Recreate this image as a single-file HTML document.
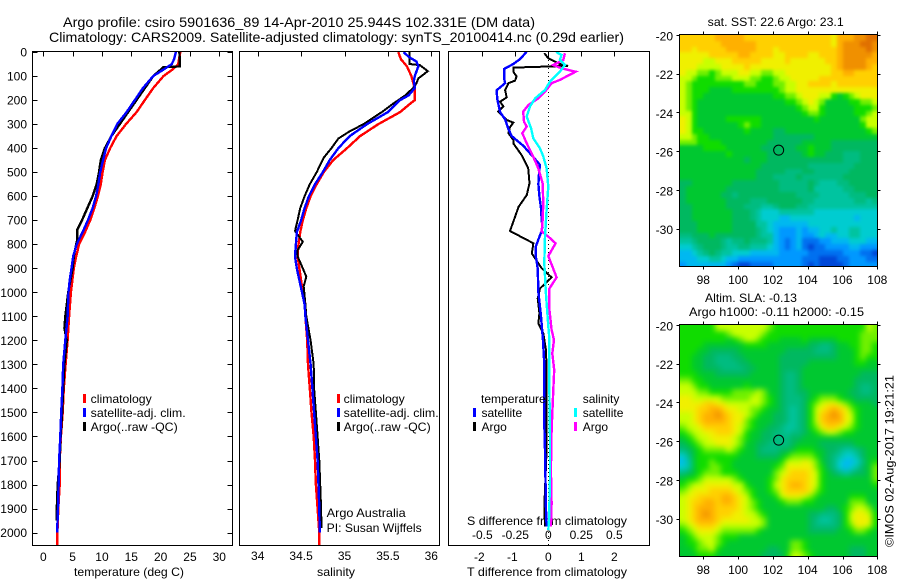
<!DOCTYPE html>
<html>
<head>
<meta charset="utf-8">
<title>Argo profile chart</title>
<style>
html,body{margin:0;padding:0;background:#fff;}
svg{display:block;font-family:"Liberation Sans",sans-serif;font-size:12px;fill:#000;}
text{fill:#000;}
.title{font-size:14px;}
</style>
</head>
<body>
<svg id="chart" width="900" height="580" viewBox="0 0 900 580" xmlns="http://www.w3.org/2000/svg">
  <defs>
    <clipPath id="sst-clip"><rect x="680" y="35" width="198" height="232"/></clipPath>
    <clipPath id="sla-clip"><rect x="680" y="325" width="198" height="232"/></clipPath>
    <filter id="sst-smooth" x="670" y="25" width="218" height="252" filterUnits="userSpaceOnUse" color-interpolation-filters="sRGB">
      <feGaussianBlur stdDeviation="1.6"/>
      <feComponentTransfer><feFuncA type="linear" slope="20" intercept="0"/></feComponentTransfer>
    </filter>
    <filter id="sla-smooth" x="670" y="315" width="218" height="252" filterUnits="userSpaceOnUse" color-interpolation-filters="sRGB">
      <feGaussianBlur stdDeviation="3"/>
      <feComponentTransfer><feFuncA type="linear" slope="20" intercept="0"/></feComponentTransfer>
    </filter>
  </defs>
  <text class="title" x="63" y="27" textLength="472" lengthAdjust="spacingAndGlyphs">Argo profile: csiro 5901636_89 14-Apr-2010 25.944S 102.331E (DM data)</text>
  <text class="title" x="49" y="42" textLength="575" lengthAdjust="spacingAndGlyphs">Climatology: CARS2009. Satellite-adjusted climatology: synTS_20100414.nc (0.29d earlier)</text>

  <text x="74" y="576" textLength="110" lengthAdjust="spacingAndGlyphs">temperature (deg C)</text>
  <text x="317" y="576" textLength="38" lengthAdjust="spacingAndGlyphs">salinity</text>
  <text x="467" y="576" textLength="160" lengthAdjust="spacingAndGlyphs">T difference from climatology</text>
  <text x="467" y="525" textLength="160" lengthAdjust="spacingAndGlyphs">S difference from climatology</text>

  <text x="707.7" y="26" textLength="136" lengthAdjust="spacingAndGlyphs">sat. SST: 22.6 Argo: 23.1</text>
  <text x="705" y="302" textLength="92" lengthAdjust="spacingAndGlyphs">Altim. SLA: -0.13</text>
  <text x="689" y="316" textLength="175" lengthAdjust="spacingAndGlyphs">Argo h1000: -0.11 h2000: -0.15</text>
  <text transform="translate(893.5,547) rotate(-90)" textLength="172" lengthAdjust="spacingAndGlyphs">©IMOS 02-Aug-2017 19:21:21</text>

  <text x="326.7" y="517" textLength="79" lengthAdjust="spacingAndGlyphs">Argo Australia</text>
  <text x="326.7" y="532" textLength="95" lengthAdjust="spacingAndGlyphs">PI: Susan Wijffels</text>

  <g clip-path="url(#sst-clip)"><g id="sst-cells" filter="url(#sst-smooth)"></g></g>
  <g clip-path="url(#sla-clip)"><g id="sla-cells" filter="url(#sla-smooth)"></g></g>
  <g id="panels"></g>
  <g id="axes" shape-rendering="crispEdges"></g>
  <g id="legend"></g>
</svg>
<script>
const depthTicks = [0,100,200,300,400,500,600,700,800,900,1000,1100,1200,1300,1400,1500,1600,1700,1800,1900,2000];
const tempTicks = [0,5,10,15,20,25,30];
const salTicks = [34,34.5,35,35.5,36];
const tDiffTicks = [-2,-1,0,1,2];
const sDiffTicks = [-0.5,-0.25,0,0.25,0.5];
const lonTicks = [98,100,102,104,106,108];
const latTicks = [-20,-22,-24,-26,-28,-30];

const tempClimDepth = [0,50,70,100,150,200,250,300,350,400,450,500,550,600,650,700,750,800,850,900,1000,1100,1200,1300,1400,1500,1600,1700,1800,1900,2000,2055];
const tempClimValue = [23.35,23,22.2,20.5,18.75,17.3,15.9,14.1,12.5,11.4,10.5,10.1,9.8,9.3,8.7,8,7.1,6.1,5.6,5.2,4.7,4.4,4.15,3.8,3.5,3.3,3,2.8,2.8,2.55,2.4,2.4];
const tempSatDepth = [0,30,50,70,100,150,200,250,300,350,400,450,500,550,600,650,700,750,800,850,900,950,1000,1100,1200,1300,1400,1500,1600,1700,1800,1900,2000];
const tempSatValue = [22.6,22.3,21.9,20.7,18.75,17,15.6,14.2,12.6,11.6,10.7,10.2,9.7,9.4,9,8.4,7.6,6.7,5.7,5.1,4.8,4.5,4.3,4.15,3.75,3.4,3.25,3.05,2.9,2.7,2.6,2.5,2.35];
const tempArgoDepth = [0,60,63,100,350,400,450,500,550,600,650,700,740,780,800,850,900,1000,1050,1100,1150,1200,1300,1400,1500,1600,1700,1800,1900,1950];
const tempArgoValue = [23.2,23.3,20.5,18.75,11.6,10.5,9.8,9.5,9.1,8.4,7.5,6.6,5.8,5.8,5.6,5.2,5,4.25,4,3.75,3.6,4,3.6,3.4,3.2,2.95,2.8,2.45,2.3,2.3];

const salClimDepth = [0,30,60,100,150,200,220,250,300,350,400,450,500,550,600,650,700,750,800,850,900,950,1000,1050,1100,1200,1300,1400,1500,1600,1700,1800,1900,2000,2055];
const salClimValue = [35.62,35.65,35.72,35.77,35.81,35.81,35.74,35.64,35.39,35.18,35.03,34.87,34.76,34.68,34.61,34.56,34.52,34.49,34.47,34.46,34.48,34.5,34.52,34.55,34.55,34.57,34.58,34.6,34.62,34.645,34.66,34.67,34.69,34.71,34.71];
const salSatDepth = [0,20,40,60,100,120,150,180,200,250,300,350,400,450,500,550,600,650,700,750,800,850,900,950,1000,1050,1100,1200,1300,1400,1500,1600,1700,1800,1900,2000];
const salSatValue = [35.68,35.74,35.83,35.85,35.81,35.8,35.81,35.74,35.64,35.5,35.26,35.06,34.93,34.83,34.75,34.66,34.59,34.54,34.5,34.45,34.44,34.43,34.45,34.48,34.51,34.54,34.55,34.58,34.61,34.63,34.65,34.67,34.69,34.7,34.71,34.715];
const salArgoDepth = [0,50,55,80,110,130,150,180,220,250,300,330,360,400,440,500,550,600,650,700,745,790,825,850,900,935,975,1050,1100,1200,1300,1400,1500,1600,1700,1800,1900,1980];
const salArgoValue = [35.75,35.75,35.87,35.96,35.85,35.83,35.79,35.7,35.54,35.43,35.22,35.06,34.93,34.85,34.76,34.68,34.6,34.54,34.49,34.46,34.43,34.52,34.46,34.46,34.52,34.56,34.53,34.55,34.56,34.61,34.645,34.65,34.67,34.69,34.71,34.72,34.73,34.735];

const tDiffSatDepth = [0,30,50,70,110,130,160,200,250,280,320,350,390,430,470,500,550,600,650,700,725,745,780,810,850,900,1000,1050,1100,1200,1300,1406,1545,1656,1905,1975];
const tDiffSatValue = [-0.66,-0.86,-1.06,-1.33,-1.34,-1.31,-1.57,-1.54,-1.46,-1.31,-1.21,-1.11,-0.76,-0.5,-0.25,-0.28,-0.3,-0.27,-0.22,-0.2,-0.18,-0.2,-0.3,-0.38,-0.38,-0.32,-0.3,-0.26,-0.22,-0.16,-0.12,-0.12,-0.12,-0.1,-0.07,-0.05];
const tDiffArgoDepth = [5,26,50,58,65,82,102,119,130,158,189,207,227,248,283,294,313,338,366,380,429,484,546,595,644,745,796,838,900,938,984,1025,1087,1129,1171,1240,1323,1500,1656,1893,1975];
const tDiffArgoValue = [-0.12,0,0.35,0.6,-1.06,-1.06,-0.96,-1.01,-1.21,-1.31,-1.26,-1.46,-1.36,-1.52,-1.26,-1.06,-1.16,-1.21,-1.06,-1.06,-0.81,-0.61,-0.57,-0.65,-0.9,-1.16,-0.45,-0.5,-0.2,0.1,-0.25,-0.32,-0.27,-0.3,-0.15,-0.07,-0.05,-0.05,-0.05,-0.12,-0.1];

const sDiffSatDepth = [0,12,33,54,82,123,158,193,227,269,318,359,401,435,484,560,657,768,879,1004,1101,1198,1323,1406,1600,1780,1950,1990];
const sDiffSatValue = [0.058,0.1,0.088,0.126,0.088,0.013,-0.025,-0.1,-0.139,-0.164,-0.13,-0.114,-0.063,-0.038,-0.013,0,-0.013,-0.025,-0.03,-0.018,-0.005,0.008,0.008,0.008,0.013,0.013,0.005,0];
const sDiffArgoDepth = [5,33,54,68,82,116,130,165,193,220,248,290,310,338,380,429,484,546,630,700,747,768,796,849,938,984,1073,1156,1198,1254,1323,1406,1573,1739,1878,1975];
const sDiffArgoValue = [0.126,0.114,0.038,0.1,0.207,0.088,0.025,-0.025,-0.076,-0.15,-0.19,-0.184,-0.164,-0.197,-0.164,-0.12,-0.076,-0.043,-0.038,-0.043,-0.05,0,0.055,0,0.063,0.008,0.008,0.025,0.043,0.03,0.045,0.038,0.025,0.02,0.025,0.02];

const colorScale = ['#0048d8','#0070f0','#0098ff','#00b8f0','#00ccd0','#00c4a0','#00bc80','#00b860','#00c830','#10dc00','#70f000','#c8ff00','#f0f000','#ffd000','#ffb000','#f09000','#e07000'];

const sstGrid = [
[13,13,13,13,13,13,14,14,14,14,14,13,13,13,13,13,13,13,13,13,13,13,13,13,13,13,12,14,14,14,15,15,16,16],
[13,13,13,13,13,13,13,14,14,14,14,14,14,13,13,13,13,13,13,13,13,13,13,13,13,13,12,14,15,15,15,16,16,15],
[13,13,12,13,13,13,13,13,14,14,14,14,14,13,13,13,12,13,13,13,13,13,13,13,13,13,13,14,15,15,15,15,16,15],
[12,12,12,12,12,13,13,13,13,13,14,14,13,13,13,13,12,12,13,13,13,13,12,12,13,13,13,14,15,15,15,15,15,14],
[12,12,12,12,11,11,12,12,12,13,13,13,13,13,12,12,12,12,13,12,12,12,12,12,12,13,13,14,15,15,15,15,14,14],
[12,12,12,11,11,11,11,12,12,12,12,13,12,12,12,12,12,12,12,12,12,12,12,12,12,12,13,14,15,15,15,15,14,13],
[12,11,11,10,10,9,10,11,11,11,12,12,11,11,10,10,11,11,12,12,12,12,12,12,12,12,13,13,14,14,13,13,13,13],
[11,11,10,9,9,9,10,10,10,11,11,11,10,10,9,9,10,11,11,12,12,12,12,12,13,13,13,13,13,13,13,13,13,13],
[11,10,9,9,9,9,9,9,9,9,9,10,10,9,9,9,10,10,11,11,12,12,13,13,13,13,12,13,13,13,13,13,13,13],
[11,10,9,9,9,8,8,8,8,9,9,9,9,9,9,9,9,10,11,11,12,12,12,12,12,12,12,12,12,12,12,12,12,12],
[11,10,9,9,8,8,8,8,8,8,8,8,8,8,8,8,9,9,10,10,11,12,12,12,11,11,9,8,9,10,11,12,12,12],
[11,10,9,8,8,8,8,8,8,8,8,8,8,8,8,8,8,8,9,9,10,11,12,11,10,8,8,8,8,9,9,10,10,11],
[11,10,9,8,8,8,8,8,8,8,8,8,8,8,8,8,8,8,8,8,9,10,11,11,9,8,8,8,8,8,9,9,9,10],
[11,11,9,8,8,8,8,8,8,8,8,8,8,8,8,8,8,8,8,8,8,9,10,10,9,8,8,8,8,8,9,9,10,11],
[12,11,9,8,8,8,8,8,9,9,9,9,9,9,8,8,8,8,8,8,8,8,8,9,8,8,8,8,8,8,8,10,11,11],
[12,11,9,8,8,8,8,8,8,8,9,10,9,9,8,8,8,8,8,8,8,8,8,8,8,8,8,8,8,8,8,9,11,11],
[12,11,9,9,8,8,8,8,8,8,8,9,8,8,8,8,7,7,8,8,8,8,8,8,8,8,8,8,8,8,8,8,9,10],
[11,11,10,9,9,8,8,8,8,8,8,8,8,8,8,8,7,7,7,7,7,7,7,8,8,8,8,8,8,8,8,8,8,8],
[10,10,10,9,9,9,9,8,8,8,8,8,8,8,8,7,7,7,7,7,7,8,8,8,8,8,7,7,7,7,7,7,7,7],
[8,8,8,8,9,9,9,9,8,8,8,8,8,8,7,7,7,7,7,7,8,8,9,8,8,8,7,7,7,7,7,7,7,7],
[8,8,8,8,8,8,8,8,9,8,8,8,8,8,8,7,7,7,7,7,7,8,9,8,8,7,7,7,6,6,6,7,7,7],
[8,8,8,8,8,8,8,8,8,8,8,7,8,8,8,7,7,7,7,7,7,7,7,7,7,7,7,7,6,6,6,7,7,7],
[8,8,8,8,8,8,8,8,8,8,8,8,8,8,7,7,7,7,7,7,7,7,6,6,6,6,6,6,6,6,7,7,7,7],
[8,8,8,8,8,8,8,8,8,8,8,8,8,7,7,7,7,7,6,6,6,7,7,6,6,6,6,6,6,7,7,7,7,7],
[8,8,8,8,8,8,8,8,8,8,8,8,8,7,7,7,6,6,6,6,7,6,6,6,6,6,6,6,7,7,7,7,7,7],
[7,7,8,8,8,8,8,8,8,7,7,7,7,7,7,7,7,6,6,6,6,6,7,6,5,5,5,6,6,7,7,7,7,7],
[7,8,8,8,8,8,8,8,7,7,7,7,7,7,7,7,7,6,6,6,6,6,7,5,5,5,5,5,6,6,7,7,7,7],
[7,8,8,8,8,8,8,7,7,6,7,7,7,7,7,7,7,7,7,7,6,6,6,6,5,5,5,5,5,6,6,6,7,7],
[7,8,8,8,8,8,8,8,7,7,7,7,6,6,6,7,7,7,7,7,7,6,6,5,5,5,5,5,5,5,6,6,5,6],
[7,7,8,8,8,8,8,8,7,7,7,6,6,6,5,5,6,7,7,7,6,6,5,5,5,5,5,5,5,5,5,5,5,5],
[7,7,8,8,8,8,8,8,8,7,7,7,6,5,4,4,4,5,5,5,5,5,5,4,4,4,4,4,4,4,4,4,4,4],
[7,7,8,8,8,8,8,8,8,7,7,7,6,5,4,4,4,3,3,4,4,4,4,4,4,4,4,4,4,4,3,4,4,4],
[7,7,7,8,8,8,8,8,8,7,7,7,7,5,5,4,3,3,3,3,3,3,4,4,4,4,4,4,4,4,4,4,4,4],
[7,7,7,8,8,8,8,8,8,7,7,7,7,6,5,4,3,2,2,2,3,2,3,3,4,4,5,4,4,5,5,4,4,4],
[6,6,7,7,7,8,7,7,7,7,7,7,7,6,5,5,3,2,2,2,3,2,2,3,4,3,3,4,4,5,5,4,4,4],
[5,5,6,7,7,7,7,6,5,6,6,7,6,6,6,5,3,2,1,2,3,1,1,1,2,2,3,3,3,4,4,4,3,3],
[4,4,5,6,7,7,7,6,5,5,6,6,5,5,5,4,3,2,1,2,3,1,0,1,1,2,2,2,2,3,3,2,2,2],
[3,3,4,5,6,7,6,5,5,4,4,4,3,3,3,3,3,2,2,2,2,2,1,1,1,1,1,1,2,2,2,1,1,0],
[3,3,3,4,4,5,5,4,3,3,2,2,2,2,2,2,2,2,2,2,2,1,1,1,0,0,0,1,1,2,2,2,1,1],
[2,3,3,3,3,3,3,3,2,1,0,0,1,1,1,1,2,2,2,2,2,1,0,1,0,0,0,0,1,2,2,2,2,2]
];

const slaGrid = [
[9,9,9,9,9,9,11,11,11,11,11,11,11,11,11,10,9,9,9,9,9,9,9,9,9,9,9,9,9,9,9,9,11,10],
[9,9,9,9,9,9,9,9,10,11,11,11,11,11,10,9,9,9,9,9,9,9,9,9,9,9,9,9,9,9,9,10,10,10],
[9,9,9,9,9,9,9,9,8,9,10,11,11,10,9,9,9,8,8,8,8,9,8,8,8,8,8,9,9,9,9,10,10,10],
[9,9,9,9,8,8,8,8,8,8,8,9,9,9,9,8,8,8,8,8,8,8,7,7,6,6,7,8,8,9,9,10,10,9],
[9,9,9,8,8,7,7,7,7,7,8,8,8,8,8,8,8,8,7,7,7,7,7,6,6,6,7,8,8,8,9,10,10,9],
[9,9,8,8,7,7,6,6,6,7,7,8,8,8,8,8,8,7,7,7,7,7,7,7,7,7,7,8,8,8,9,10,9,9],
[9,9,8,8,7,7,6,6,6,6,7,7,8,8,8,8,8,7,7,7,7,7,8,8,8,8,8,8,8,8,9,9,8,8],
[9,9,8,8,7,7,7,6,6,6,6,7,7,8,8,8,8,7,7,7,7,8,8,8,8,8,8,8,8,8,8,8,8,8],
[9,9,9,8,8,8,7,7,7,7,7,7,8,8,8,8,8,7,6,6,7,8,8,8,8,8,8,8,8,8,8,7,7,7],
[10,10,9,9,8,8,8,8,8,8,8,8,8,8,8,8,8,7,6,6,7,8,8,8,8,8,8,8,8,8,7,7,7,7],
[11,11,10,9,9,8,8,8,8,8,8,9,8,8,8,8,8,7,6,6,7,8,8,8,8,8,8,8,8,8,7,6,6,7],
[11,11,11,10,10,9,9,9,9,10,10,10,10,11,10,8,8,7,6,6,7,7,8,8,8,8,8,8,8,7,7,6,6,7],
[12,12,11,11,11,11,11,10,10,10,10,10,11,11,10,9,8,7,6,6,6,7,8,9,10,10,10,9,8,8,7,7,7,7],
[12,12,12,12,13,13,12,12,11,11,11,11,11,11,10,9,8,7,6,6,6,7,9,10,11,12,12,11,10,9,8,8,8,7],
[12,12,12,13,13,14,14,13,12,12,11,11,10,10,9,8,8,7,6,5,6,7,9,11,12,13,14,13,12,10,9,8,8,8],
[11,11,12,13,14,14,15,14,13,12,12,11,10,9,8,8,7,7,6,5,6,7,9,11,13,14,15,14,12,11,9,8,8,8],
[11,11,12,13,14,14,14,14,13,12,12,10,9,8,8,8,7,7,6,5,6,7,9,11,13,14,14,14,12,11,9,8,8,8],
[10,11,11,12,13,13,13,13,13,12,11,10,9,8,8,7,7,6,5,5,6,7,9,10,12,13,13,12,11,10,9,8,8,8],
[9,10,11,11,12,12,13,13,13,12,11,9,8,8,7,7,6,6,5,6,6,7,8,9,10,11,11,10,9,9,8,8,8,8],
[8,9,10,11,11,12,12,12,12,11,10,9,8,8,7,7,6,6,6,7,7,8,8,8,8,8,8,8,8,8,8,8,8,8],
[7,8,9,10,11,11,12,12,12,11,10,8,8,7,7,6,6,6,6,7,8,8,8,8,7,7,7,7,7,7,8,8,8,8],
[6,7,8,9,10,10,10,10,11,10,9,8,8,7,6,6,6,7,7,8,9,9,9,8,8,7,7,6,5,5,6,7,8,8],
[4,6,8,9,9,9,9,9,9,9,8,8,8,7,7,7,7,8,9,10,10,10,10,9,8,7,6,5,4,4,5,7,8,8],
[3,5,8,9,9,10,9,9,9,8,8,8,8,8,8,8,8,9,11,11,11,12,11,10,8,7,6,4,3,3,4,6,8,9],
[4,5,8,9,9,10,10,9,9,8,8,8,8,8,8,8,9,10,12,12,12,12,12,10,9,7,6,4,3,4,5,7,8,10],
[6,7,8,9,10,10,10,9,9,9,8,8,8,8,8,8,10,11,12,13,13,13,12,11,9,8,7,6,5,6,7,7,8,10],
[8,9,9,10,11,11,11,11,11,10,9,8,8,8,8,9,10,12,13,13,13,13,12,11,9,8,8,8,8,8,8,8,8,10],
[9,10,11,11,12,12,12,12,12,11,11,9,8,8,8,9,11,12,13,14,14,13,12,11,9,8,8,8,8,8,8,8,8,9],
[10,11,12,12,12,13,13,13,13,12,11,10,9,8,8,9,10,12,13,13,13,13,12,10,9,8,8,8,8,8,8,8,8,8],
[11,12,12,13,13,13,13,14,14,13,12,11,9,8,8,8,9,11,12,12,12,11,10,9,8,8,8,8,8,9,9,9,8,8],
[11,12,13,13,14,14,13,14,14,13,12,11,10,9,8,8,8,9,10,10,10,9,9,8,8,8,8,8,8,10,10,10,8,8],
[11,12,13,14,14,14,13,13,13,13,12,11,10,9,8,8,8,8,8,8,8,8,8,8,8,7,7,8,9,10,11,11,10,8],
[11,12,13,14,15,14,13,13,13,12,12,11,11,10,9,8,8,8,8,8,8,8,7,7,6,6,6,7,9,11,12,12,11,9],
[11,12,13,14,14,14,13,12,12,12,12,12,11,11,10,8,8,8,8,8,8,8,7,6,5,5,6,7,9,11,12,12,12,9],
[10,11,12,13,13,13,12,11,11,11,11,11,11,11,10,8,8,8,8,8,8,8,7,6,6,6,6,7,9,10,12,12,11,9],
[9,10,11,12,12,12,11,10,10,10,10,10,10,9,8,8,8,8,8,8,8,8,7,7,7,7,7,8,8,9,10,10,9,8],
[8,9,10,11,11,11,10,9,9,9,8,8,8,8,8,8,8,8,8,8,8,8,8,8,8,8,8,8,8,8,8,8,8,8],
[8,9,9,10,11,11,10,9,8,8,8,8,8,8,8,8,8,8,8,10,10,9,8,8,8,8,8,8,8,8,8,8,8,8],
[8,8,9,10,10,11,9,8,8,8,8,8,8,8,8,7,7,8,8,10,10,9,8,8,8,8,8,8,8,7,7,7,8,8],
[8,8,8,9,9,9,8,8,8,8,8,8,8,8,7,7,7,7,9,11,11,10,9,8,8,8,8,8,8,7,7,7,8,8]
];

const profileLon = 102.331;
const profileLat = -25.944;

const NS = 'http://www.w3.org/2000/svg';
const depthY = d => 52 + d * 0.2403;
const tempX = t => 43.3 + t * 5.867;
const salX = s => 257.7 + (s - 34) * 86.8;
const tDiffX = t => 548.3 + t * 33;
const sDiffX = s => 548.3 + s * 132;
const lonX = l => 703.3 + (l - 98) * 17.4;

function node(parent, tag, attrs, content) {
  const el = document.createElementNS(NS, tag);
  for (const k in attrs) el.setAttribute(k, attrs[k]);
  if (content !== undefined) el.textContent = content;
  parent.appendChild(el);
  return el;
}

const panelLayer = document.getElementById('panels');
const axisLayer = document.getElementById('axes');
const legendLayer = document.getElementById('legend');

function drawLine(name, depths, values, xFn, color, width) {
  const pts = depths.map((d, i) => xFn(values[i]).toFixed(1) + ',' + depthY(d).toFixed(1)).join(' ');
  const el = node(panelLayer, 'polyline', {points: pts, fill: 'none', stroke: color, 'stroke-width': width, 'stroke-linejoin': 'miter', 'shape-rendering': 'crispEdges'});
  
  
}

function drawFrame(name, x0, x1, y0, y1) {
  const el = node(axisLayer, 'rect', {x: x0, y: y0, width: x1 - x0, height: y1 - y0, fill: 'none', stroke: '#000', 'stroke-width': 1});
  
  
}

function drawTickLine(name, x1, y1, x2, y2) {
  const el = node(axisLayer, 'line', {x1: x1, y1: y1, x2: x2, y2: y2, stroke: '#000', 'stroke-width': 1});
  
  
}

function drawLabel(name, x, y, anchor, str, fit) {
  const el = node(legendLayer, 'text', {x: x, y: y, 'text-anchor': anchor}, str);
  if (fit) {
    el.setAttribute('textLength', fit);
    el.setAttribute('lengthAdjust', 'spacingAndGlyphs');
  }
  
  
}

function drawLegendBar(name, x, y, color) {
  const el = node(legendLayer, 'rect', {x: x, y: y, width: 3, height: 9, fill: color, 'shape-rendering': 'crispEdges'});
  
  
}

function drawMap(name, layer, grid, left, top) {
  const cell = 197.6 / grid[0].length;
  grid.forEach((row, r) => {
    row.forEach((v, c) => {
      const x0 = Math.round(left + c * cell), x1 = Math.round(left + (c + 1) * cell);
      const y0 = Math.round(top + r * cell), y1 = Math.round(top + (r + 1) * cell);
      const el = node(layer, 'rect', {x: x0, y: y0, width: x1 - x0, height: y1 - y0, fill: colorScale[Math.max(0, Math.min(colorScale.length - 1, Math.round(v)))], 'shape-rendering': 'crispEdges'});
      
      
    });
  });
}

/* profile panels */
drawFrame('temperature-panel-frame', 32.5, 232.5, 51.5, 545.5);
drawFrame('salinity-panel-frame', 239.5, 439.5, 51.5, 545.5);
drawFrame('difference-panel-frame', 448.5, 649.5, 51.5, 545.5);

depthTicks.forEach(d => {
  const y = Math.round(depthY(d)) + 0.5;
  drawTickLine('depth-tick-left', 32.5, y, 37.5, y);
  drawTickLine('depth-tick-right', 227.5, y, 232.5, y);
  drawLabel('depth-tick-label', 27, depthY(d) + 4.5, 'end', String(d));
});
tempTicks.forEach(t => {
  const x = Math.round(tempX(t)) + 0.5;
  drawTickLine('temperature-tick', x, 51.5, x, 56.5);
  drawLabel('temperature-tick-label', tempX(t), 561, 'middle', String(t));
});
salTicks.forEach(s => {
  const x = Math.round(salX(s)) + 0.5;
  drawTickLine('salinity-tick', x, 51.5, x, 56.5);
  drawLabel('salinity-tick-label', salX(s), 560, 'middle', String(s));
});
tDiffTicks.forEach(t => {
  const x = Math.round(tDiffX(t)) + 0.5;
  drawTickLine('t-difference-tick', x, 51.5, x, 56.5);
  drawLabel('t-difference-tick-label', tDiffX(t) - (t < 0 ? 3 : 0), 561, 'middle', String(t));
});
sDiffTicks.forEach(s => {
  drawLabel('s-difference-tick-label', sDiffX(s), 539, 'middle', String(s));
});

/* zero line */
{
  const zero = node(panelLayer, 'line', {x1: tDiffX(0), y1: 52, x2: tDiffX(0), y2: 545, stroke: '#000', 'stroke-width': 1, 'stroke-dasharray': '1 3', 'shape-rendering': 'crispEdges'});
  
  
}

drawLine('temperature-climatology-line', tempClimDepth, tempClimValue, tempX, '#ff0000', 2.4);
drawLine('temperature-argo-line', tempArgoDepth, tempArgoValue, tempX, '#000000', 2.4);
drawLine('temperature-satellite-line', tempSatDepth, tempSatValue, tempX, '#0000ff', 2.4);

drawLine('salinity-climatology-line', salClimDepth, salClimValue, salX, '#ff0000', 2.4);
drawLine('salinity-argo-line', salArgoDepth, salArgoValue, salX, '#000000', 2);
drawLine('salinity-satellite-line', salSatDepth, salSatValue, salX, '#0000ff', 2.4);

drawLine('t-difference-argo-line', tDiffArgoDepth, tDiffArgoValue, tDiffX, '#000000', 2);
drawLine('t-difference-satellite-line', tDiffSatDepth, tDiffSatValue, tDiffX, '#0000ff', 2.4);
drawLine('s-difference-argo-line', sDiffArgoDepth, sDiffArgoValue, sDiffX, '#ff00ff', 2.4);
drawLine('s-difference-satellite-line', sDiffSatDepth, sDiffSatValue, sDiffX, '#00ffff', 2.4);

/* legends */
drawLegendBar('temperature-legend-climatology-swatch', 83, 394, '#ff0000');
drawLabel('temperature-legend-climatology', 90.7, 403, 'start', 'climatology', 61);
drawLegendBar('temperature-legend-satellite-swatch', 83, 408, '#0000ff');
drawLabel('temperature-legend-satellite', 90.7, 417, 'start', 'satellite-adj. clim.', 95);
drawLegendBar('temperature-legend-argo-swatch', 83, 422, '#000000');
drawLabel('temperature-legend-argo', 90.7, 431, 'start', 'Argo(..raw -QC)', 87);

drawLegendBar('salinity-legend-climatology-swatch', 337, 394, '#ff0000');
drawLabel('salinity-legend-climatology', 343.7, 403, 'start', 'climatology', 61);
drawLegendBar('salinity-legend-satellite-swatch', 337, 408, '#0000ff');
drawLabel('salinity-legend-satellite', 343.7, 417, 'start', 'satellite-adj. clim.', 95);
drawLegendBar('salinity-legend-argo-swatch', 337, 422, '#000000');
drawLabel('salinity-legend-argo', 343.7, 431, 'start', 'Argo(..raw -QC)', 87);

drawLabel('difference-legend-temperature-heading', 481, 403, 'start', 'temperature');
drawLegendBar('difference-legend-t-satellite-swatch', 473, 408, '#0000ff');
drawLabel('difference-legend-t-satellite', 481.5, 417, 'start', 'satellite');
drawLegendBar('difference-legend-t-argo-swatch', 473, 422, '#000000');
drawLabel('difference-legend-t-argo', 481.5, 431, 'start', 'Argo');
drawLabel('difference-legend-salinity-heading', 582.7, 403, 'start', 'salinity');
drawLegendBar('difference-legend-s-satellite-swatch', 574, 408, '#00ffff');
drawLabel('difference-legend-s-satellite', 582.7, 417, 'start', 'satellite');
drawLegendBar('difference-legend-s-argo-swatch', 574, 422, '#ff00ff');
drawLabel('difference-legend-s-argo', 582.7, 431, 'start', 'Argo');

/* maps */
function drawMapFrame(name, layerId, grid, top, labelY) {
  drawMap(name, document.getElementById(layerId), grid, 680, top);
  const bottom = top + 232;
  const latY = l => top + (-20 - l) * 19.37;
  drawFrame(name + '-frame', 679.5, 877.5, top - 0.5, bottom - 0.5);
  latTicks.forEach(l => {
    const y = Math.round(latY(l)) + 0.5;
    drawTickLine(name + '-lat-tick-left', 676.5, y, 679.5, y);
    drawTickLine(name + '-lat-tick-right', 877.5, y, 880.5, y);
    drawLabel(name + '-lat-label', 673, latY(l) + 5.5, 'end', String(l));
  });
  lonTicks.forEach(l => {
    const x = Math.round(lonX(l)) + 0.5;
    drawTickLine(name + '-lon-tick-top', x, top - 3.5, x, top - 0.5);
    drawTickLine(name + '-lon-tick-bottom', x, bottom - 0.5, x, bottom + 2.5);
    drawLabel(name + '-lon-label', lonX(l), labelY, 'middle', String(l));
  });
  const marker = node(legendLayer, 'circle', {cx: lonX(profileLon), cy: latY(profileLat), r: 5, fill: 'none', stroke: '#000', 'stroke-width': 1});
  
  
}
drawMapFrame('sst-map', 'sst-cells', sstGrid, 35, 284);
drawMapFrame('sla-map', 'sla-cells', slaGrid, 325, 574);
</script>
</body>
</html>
